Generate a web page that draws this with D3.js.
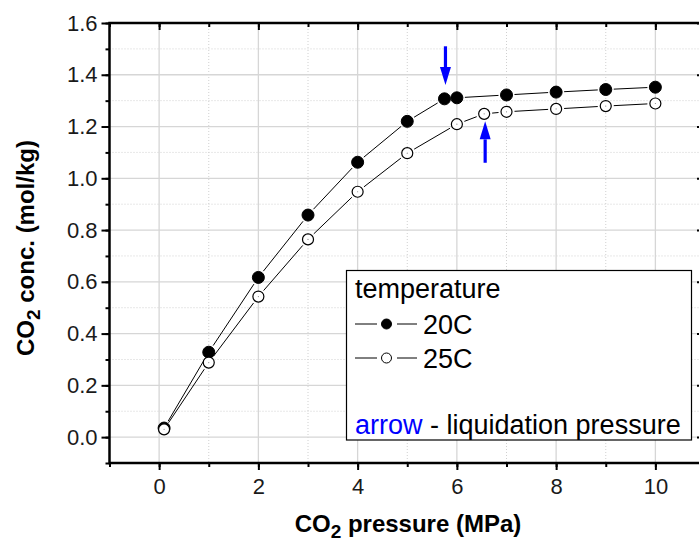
<html>
<head>
<meta charset="utf-8">
<script src="https://cdnjs.cloudflare.com/ajax/libs/d3/7.8.5/d3.min.js"></script>
<style>
  body { margin: 0; background: #fff; }
  text { font-family: "Liberation Sans", Arial, sans-serif; }
</style>
</head>
<body>
<div id="main"></div>
<script>
// data
var pressure20 = [0.1, 1, 2, 3, 4, 5, 5.75, 6, 7, 8, 9, 10];
var conc20 = [0.035, 0.328, 0.617, 0.858, 1.062, 1.220, 1.307, 1.311, 1.322, 1.333, 1.343, 1.352];
var pressure25 = [0.1, 1, 2, 3, 4, 5, 6, 6.55, 7, 8, 9, 10];
var conc25 = [0.03, 0.288, 0.543, 0.764, 0.948, 1.097, 1.209, 1.249, 1.257, 1.268, 1.279, 1.289];
// liquidation pressure arrows
var arrowX = [5.77, 6.57];
var arrowFrom = [1.51, 1.06];
var arrowTo = [1.36, 1.22];
var xTicks = [0, 2, 4, 6, 8, 10];
var yTicks = [0.0, 0.2, 0.4, 0.6, 0.8, 1.0, 1.2, 1.4, 1.6];

var W = 699, H = 542;
var pLeft = 109.5, pRight = 705, pTop = 23, pBottom = 463;

var x = d3.scaleLinear().domain([-1, 11]).range([pLeft, pRight]);
var y = d3.scaleLinear().domain([-0.1, 1.6]).range([pBottom, pTop]);

var xMinor = d3.range(-1, 11.01, 1);
var yMinor = d3.range(-0.1, 1.601, 0.1).map(function(d) { return Math.round(d * 10) / 10; });

var svg = d3.select('#main').append('svg')
    .attr('width', W).attr('height', H);

// grid
var grid = svg.append('g');
grid.selectAll('.gxm').data(xMinor.filter(function(d) { return d % 2 !== 0; }))
    .enter().append('line')
    .attr('x1', function(d) { return x(d); }).attr('x2', function(d) { return x(d); })
    .attr('y1', pTop).attr('y2', pBottom)
    .attr('stroke', '#d0d0d0').attr('stroke-dasharray', '1,2');
grid.selectAll('.gym').data(yMinor.filter(function(d) { return Math.round(d * 10) % 2 !== 0; }))
    .enter().append('line')
    .attr('x1', pLeft).attr('x2', pRight)
    .attr('y1', function(d) { return y(d); }).attr('y2', function(d) { return y(d); })
    .attr('stroke', '#d0d0d0').attr('stroke-dasharray', '1,2');
grid.selectAll('.gx').data(xTicks)
    .enter().append('line')
    .attr('x1', function(d) { return x(d); }).attr('x2', function(d) { return x(d); })
    .attr('y1', pTop).attr('y2', pBottom)
    .attr('stroke', '#d6d6d6').attr('stroke-width', 1.3);
grid.selectAll('.gy').data(yTicks.slice(0, -1))
    .enter().append('line')
    .attr('x1', pLeft).attr('x2', pRight)
    .attr('y1', function(d) { return y(d); }).attr('y2', function(d) { return y(d); })
    .attr('stroke', '#d6d6d6').attr('stroke-width', 1.3);

// axes
function styleAxis(g) {
    g.select('.domain').remove();
    g.selectAll('line').attr('stroke', '#000').attr('stroke-width', 2);
    g.selectAll('text').attr('font-size', 22).attr('fill', '#1a1a1a')
        .attr('font-family', '"Liberation Sans", Arial, sans-serif');
}
svg.append('g').attr('transform', 'translate(0,' + pBottom + ')')
    .call(d3.axisBottom(x).tickValues(xMinor).tickSize(4).tickFormat(''))
    .call(styleAxis);
svg.append('g').attr('transform', 'translate(0,' + pBottom + ')')
    .call(d3.axisBottom(x).tickValues(xTicks).tickSize(7).tickPadding(8).tickFormat(d3.format('d')))
    .call(styleAxis);
svg.append('g').attr('transform', 'translate(0,' + pTop + ')')
    .call(d3.axisBottom(x).tickValues(xMinor).tickSize(4).tickFormat(''))
    .call(styleAxis);
svg.append('g').attr('transform', 'translate(0,' + pTop + ')')
    .call(d3.axisBottom(x).tickValues(xTicks).tickSize(7).tickFormat(''))
    .call(styleAxis);
svg.append('g').attr('transform', 'translate(' + pLeft + ',0)')
    .call(d3.axisLeft(y).tickValues(yMinor).tickSize(4).tickFormat(''))
    .call(styleAxis);
svg.append('g').attr('transform', 'translate(' + pLeft + ',0)')
    .call(d3.axisLeft(y).tickValues(yTicks).tickSize(8).tickPadding(4).tickFormat(d3.format('.1f')))
    .call(styleAxis);
svg.append('g').attr('transform', 'translate(' + pRight + ',0)')
    .call(d3.axisLeft(y).tickValues(yMinor).tickSize(4).tickFormat(''))
    .call(styleAxis);
svg.append('g').attr('transform', 'translate(' + pRight + ',0)')
    .call(d3.axisLeft(y).tickValues(yTicks).tickSize(8).tickFormat(''))
    .call(styleAxis);

svg.append('rect')
    .attr('x', pLeft).attr('y', pTop)
    .attr('width', pRight - pLeft).attr('height', pBottom - pTop)
    .attr('fill', 'none').attr('stroke', '#000').attr('stroke-width', 2.5);

// series: segments with a small gap round each marker
var r = 6;
function drawSeries(xs, ys, filled) {
    var g = svg.append('g');
    var pts = xs.map(function(d, i) { return [x(d), y(ys[i])]; });
    for (var i = 0; i < pts.length - 1; i++) {
        var a = pts[i], b = pts[i + 1];
        var dx = b[0] - a[0], dy = b[1] - a[1];
        var len = Math.sqrt(dx * dx + dy * dy);
        var gap = r + 2;
        if (len <= 2 * gap) continue;
        g.append('line')
            .attr('x1', a[0] + dx / len * gap).attr('y1', a[1] + dy / len * gap)
            .attr('x2', b[0] - dx / len * gap).attr('y2', b[1] - dy / len * gap)
            .attr('stroke', '#000').attr('stroke-width', 1);
    }
    g.selectAll('circle.m').data(pts).enter().append('circle')
        .attr('cx', function(d) { return d[0]; })
        .attr('cy', function(d) { return d[1]; })
        .attr('r', filled ? r : r - 0.5)
        .attr('fill', filled ? '#000' : '#fff')
        .attr('stroke', '#000').attr('stroke-width', filled ? 1 : 1.2);
    if (!filled) {
        g.selectAll('circle.c').data(pts).enter().append('circle')
            .attr('cx', function(d) { return d[0]; })
            .attr('cy', function(d) { return d[1]; })
            .attr('r', 0.6).attr('fill', '#888');
    }
}
drawSeries(pressure20, conc20, true);
drawSeries(pressure25, conc25, false);

// arrows
arrowX.forEach(function(ax, i) {
    var x0 = x(ax), y0 = y(arrowFrom[i]), y1 = y(arrowTo[i]);
    var dir = y1 > y0 ? 1 : -1;
    var head = 18;
    svg.append('line')
        .attr('x1', x0).attr('x2', x0)
        .attr('y1', y0).attr('y2', y1 - dir * head)
        .attr('stroke', '#0000ff').attr('stroke-width', 3.2);
    svg.append('path')
        .attr('d', 'M' + (x0 - 5.5) + ',' + (y1 - dir * head) + 'L' + (x0 + 5.5) + ',' + (y1 - dir * head) + 'L' + x0 + ',' + y1 + 'Z')
        .attr('fill', '#0000ff');
});

// legend
var lg = svg.append('g');
lg.append('rect')
    .attr('x', 346.5).attr('y', 270.5).attr('width', 345).attr('height', 169.5)
    .attr('fill', '#fff').attr('stroke', '#000').attr('stroke-width', 1.2);
lg.append('text').attr('x', 355).attr('y', 298).style('font-size', '27px').text('temperature');
[['20C', true, 324], ['25C', false, 358]].forEach(function(d) {
    lg.append('line').attr('x1', 355).attr('x2', 377).attr('y1', d[2]).attr('y2', d[2])
        .attr('stroke', '#000').attr('stroke-width', 1);
    lg.append('line').attr('x1', 397).attr('x2', 417).attr('y1', d[2]).attr('y2', d[2])
        .attr('stroke', '#000').attr('stroke-width', 1);
    lg.append('circle').attr('cx', 386.5).attr('cy', d[2]).attr('r', 5)
        .attr('fill', d[1] ? '#000' : '#fff').attr('stroke', '#000').attr('stroke-width', 1);
    lg.append('text').attr('x', 423).attr('y', d[2] + 9.5).style('font-size', '27px').text(d[0]);
});
var note = lg.append('text').attr('x', 355).attr('y', 434).style('font-size', '27px');
note.append('tspan').attr('fill', '#0000ff').text('arrow');
note.append('tspan').text(' - liquidation pressure');

// axis titles
var xt = svg.append('text')
    .attr('x', 408).attr('y', 532)
    .attr('text-anchor', 'middle')
    .style('font-size', '24px').style('font-weight', 'bold');
xt.append('tspan').text('CO');
xt.append('tspan').attr('dy', 6).style('font-size', '19px').text('2');
xt.append('tspan').attr('dy', -6).text(' pressure (MPa)');

var yt = svg.append('text')
    .attr('transform', 'translate(34,248) rotate(-90)')
    .attr('text-anchor', 'middle')
    .style('font-size', '24px').style('font-weight', 'bold');
yt.append('tspan').text('CO');
yt.append('tspan').attr('dy', 6).style('font-size', '19px').text('2');
yt.append('tspan').attr('dy', -6).text(' conc. (mol/kg)');
</script>
</body>
</html>
